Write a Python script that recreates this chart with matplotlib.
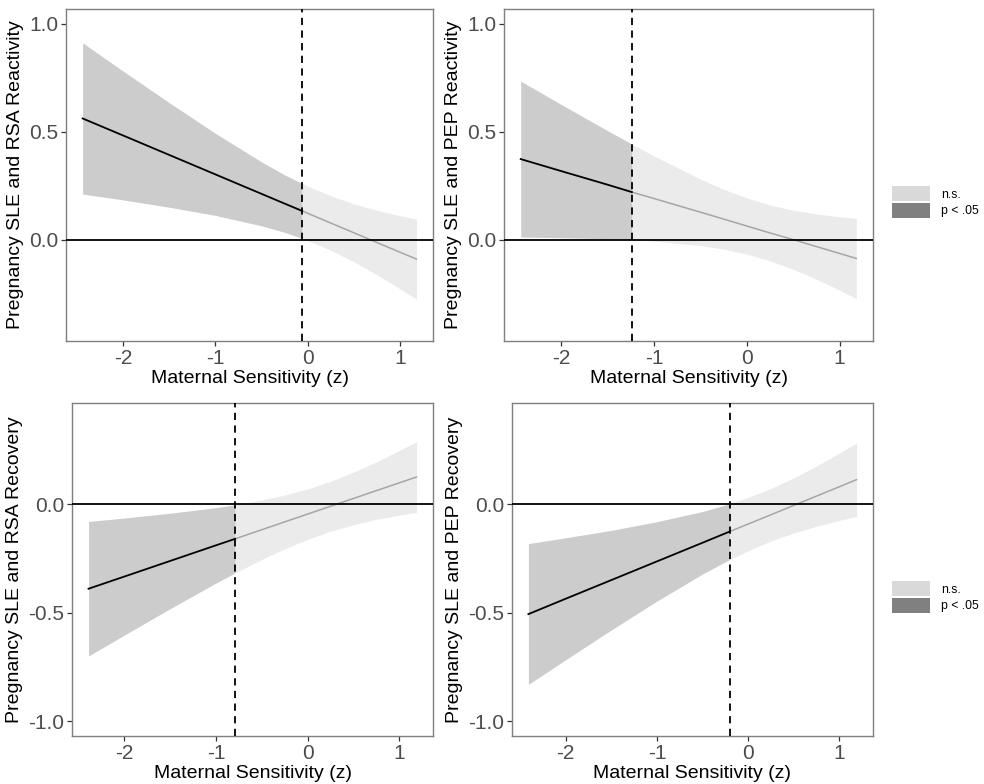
import matplotlib
matplotlib.use("Agg")
import matplotlib.pyplot as plt
from matplotlib.patches import Patch
import numpy as np

plt.rcParams['font.family'] = ['Liberation Sans', 'DejaVu Sans']
plt.rcParams['axes.unicode_minus'] = False

# ---- data (simple slopes with 95% CI bands) ----
# top-left: RSA reactivity
x_rsa_react = [-2.44, -2.0, -1.5, -1.0, -0.5, -0.25, -0.06, 0.0, 0.25, 0.5, 0.75, 1.0, 1.18]
fit_rsa_react = [0.562, 0.483, 0.393, 0.303, 0.213, 0.168, 0.134, 0.123, 0.078, 0.033, -0.012, -0.057, -0.089]
up_rsa_react = [0.912, 0.781, 0.635, 0.493, 0.361, 0.301, 0.261, 0.249, 0.204, 0.167, 0.137, 0.112, 0.096]
lo_rsa_react = [0.212, 0.185, 0.151, 0.113, 0.065, 0.035, 0.007, -0.003, -0.048, -0.101, -0.161, -0.226, -0.274]
jn_rsa_react = -0.06

# top-right: PEP reactivity
x_pep_react = [-2.44, -2.0, -1.5, -1.24, -1.0, -0.5, -0.25, 0.0, 0.25, 0.5, 0.75, 1.0, 1.18]
fit_pep_react = [0.374, 0.318, 0.255, 0.221, 0.191, 0.128, 0.096, 0.064, 0.032, 0.001, -0.031, -0.063, -0.086]
up_pep_react = [0.735, 0.626, 0.505, 0.443, 0.388, 0.281, 0.234, 0.194, 0.161, 0.137, 0.120, 0.107, 0.100]
lo_pep_react = [0.013, 0.010, 0.005, 0.002, -0.006, -0.026, -0.043, -0.066, -0.097, -0.136, -0.182, -0.233, -0.272]
jn_pep_react = -1.24

# bottom-left: RSA recovery
x_rsa_rec = [-2.39, -2.0, -1.5, -1.0, -0.79, -0.5, -0.25, 0.0, 0.25, 0.5, 0.75, 1.0, 1.19]
fit_rsa_rec = [-0.390, -0.334, -0.262, -0.190, -0.160, -0.118, -0.082, -0.046, -0.010, 0.026, 0.062, 0.098, 0.125]
up_rsa_rec = [-0.080, -0.064, -0.042, -0.016, -0.003, 0.019, 0.042, 0.070, 0.105, 0.147, 0.194, 0.247, 0.288]
lo_rsa_rec = [-0.700, -0.604, -0.482, -0.364, -0.317, -0.255, -0.206, -0.162, -0.125, -0.095, -0.070, -0.051, -0.038]
jn_rsa_rec = -0.79

# bottom-right: PEP recovery
x_pep_rec = [-2.41, -2.0, -1.5, -1.0, -0.5, -0.2, 0.0, 0.25, 0.5, 0.75, 1.0, 1.19]
fit_pep_rec = [-0.507, -0.436, -0.350, -0.264, -0.178, -0.126, -0.092, -0.049, -0.006, 0.037, 0.080, 0.113]
up_pep_rec = [-0.182, -0.155, -0.121, -0.081, -0.034, 0.002, 0.031, 0.072, 0.121, 0.176, 0.235, 0.282]
lo_pep_rec = [-0.831, -0.717, -0.580, -0.447, -0.322, -0.255, -0.215, -0.170, -0.133, -0.102, -0.075, -0.057]
jn_pep_rec = -0.20

ylabels = ["Pregnancy SLE and RSA Reactivity", "Pregnancy SLE and PEP Reactivity",
           "Pregnancy SLE and RSA Recovery", "Pregnancy SLE and PEP Recovery"]
legend_labels = ["n.s.", "p < .05"]

DARK_FILL = "#cccccc"
LIGHT_FILL = "#ebebeb"


def panel(ax, x, fit, up, lo, jn, ylabel, xlim, ylim, yticks):
    x = np.array(x)
    fit, up, lo = np.array(fit), np.array(up), np.array(lo)
    sig = x <= jn
    ns = x >= jn
    ax.fill_between(x[sig], lo[sig], up[sig], color=DARK_FILL, lw=0, zorder=1)
    ax.fill_between(x[ns], lo[ns], up[ns], color=LIGHT_FILL, lw=0, zorder=1)
    ax.plot(x[ns], fit[ns], color="#a6a6a6", lw=1.1, zorder=2)
    ax.plot(x[sig], fit[sig], color="black", lw=1.3, zorder=3)
    ax.axhline(0, color="black", lw=1.3, zorder=4)
    ax.axvline(jn, color="black", lw=1.3, ls=(0, (4, 3)), zorder=4)
    ax.set_xlim(*xlim)
    ax.set_ylim(*ylim)
    ax.set_xticks([-2, -1, 0, 1])
    ax.set_yticks(yticks)
    ax.set_yticklabels(["%.1f" % v for v in yticks])
    ax.set_xlabel("Maternal Sensitivity (z)", fontsize=14, labelpad=2)
    ax.set_ylabel(ylabel, fontsize=14, labelpad=4)
    ax.tick_params(length=3.5, width=0.9, color="#333333", labelcolor="#4d4d4d",
                   labelsize=15, pad=2)
    for s in ax.spines.values():
        s.set_color("#7f7f7f")
        s.set_linewidth(1.0)


fig = plt.figure(figsize=(9.84, 7.84), dpi=100)
ax1 = fig.add_axes([0.0671, 0.5651, 0.3730, 0.4235])
ax2 = fig.add_axes([0.5122, 0.5651, 0.3750, 0.4235])
ax3 = fig.add_axes([0.0732, 0.0612, 0.3669, 0.4247])
ax4 = fig.add_axes([0.5203, 0.0612, 0.3669, 0.4247])

panel(ax1, x_rsa_react, fit_rsa_react, up_rsa_react, lo_rsa_react, jn_rsa_react,
      ylabels[0], (-2.62, 1.36), (-0.468, 1.069), [0.0, 0.5, 1.0])
panel(ax2, x_pep_react, fit_pep_react, up_pep_react, lo_pep_react, jn_pep_react,
      ylabels[1], (-2.62, 1.36), (-0.468, 1.069), [0.0, 0.5, 1.0])
panel(ax3, x_rsa_rec, fit_rsa_rec, up_rsa_rec, lo_rsa_rec, jn_rsa_rec,
      ylabels[2], (-2.57, 1.37), (-1.069, 0.466), [-1.0, -0.5, 0.0])
panel(ax4, x_pep_rec, fit_pep_rec, up_pep_rec, lo_pep_rec, jn_pep_rec,
      ylabels[3], (-2.59, 1.37), (-1.069, 0.466), [-1.0, -0.5, 0.0])

# legends (one per row, as in the original)
handles = [Patch(facecolor="#d9d9d9", edgecolor="none"),
           Patch(facecolor="#808080", edgecolor="none")]
for ax, yc in [(ax2, 0.7423), (ax4, 0.2385)]:
    ax.legend(handles, legend_labels, loc="center left", bbox_to_anchor=(0.9065, yc),
              bbox_transform=fig.transFigure, frameon=False, fontsize=8.8,
              handlelength=3.1, handleheight=1.5, handletextpad=0.9,
              labelspacing=0.12, borderpad=0, borderaxespad=0)

fig.savefig("out.png", dpi=100)
